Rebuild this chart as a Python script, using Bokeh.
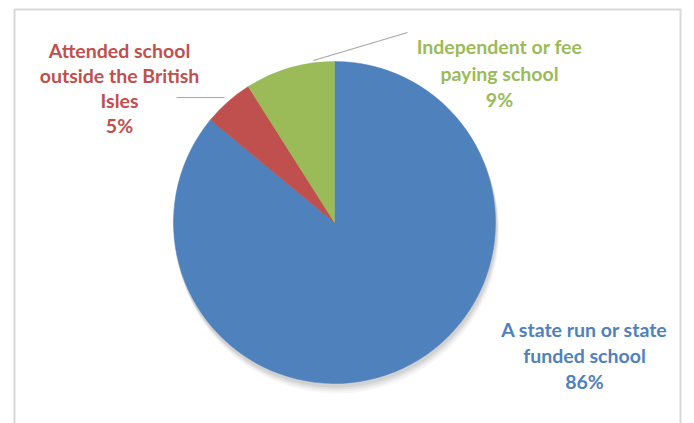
from math import pi
from bokeh.plotting import figure
from bokeh.models import Range1d, ColumnDataSource
from bokeh.core.properties import value
from bokeh.embed import file_html
from bokeh.resources import INLINE

categories = ["A state run or state funded school",
              "Attended school outside the British Isles",
              "Independent or fee paying school"]
values = [86, 5, 9]
colors = ["#4F81BD", "#C0504D", "#9BBB59"]
label_lines = [["A state run or state", "funded school", "86%"],
               ["Attended school", "outside the British", "Isles", "5%"],
               ["Independent or fee", "paying school", "9%"]]

W, H = 694, 423
p = figure(width=W, height=H, output_backend="svg", toolbar_location=None,
           x_range=Range1d(0, W), y_range=Range1d(0, H),
           min_border=0, outline_line_color=None)
p.axis.visible = False
p.grid.visible = False
p.background_fill_color = "white"
p.border_fill_color = "white"

def Y(y):
    return 423 - y

# chart border
p.quad(left=[14], right=[680], top=[Y(9)], bottom=[Y(440)], fill_color=None,
       line_color="#D9D9D9", line_width=2)

cx, cy, r = 334, Y(222), 161

# soft shadow
for off, a in [(9, 0.03), (7, 0.04), (5, 0.05), (3, 0.06)]:
    p.circle(x=[cx + off * 0.3], y=[cy - off], radius=r + 1, fill_color="#000000",
             fill_alpha=a, line_color=None)

total = sum(values)
starts, ends = [], []
ang = pi / 2
for v in values:
    starts.append(ang)
    ang = ang - v / total * 2 * pi
    ends.append(ang)

src = ColumnDataSource(dict(start=starts, end=ends, color=colors, cat=categories))
p.wedge(x=cx, y=cy, radius=r, start_angle="start", end_angle="end",
        direction="clock", fill_color="color", line_color="color", line_width=0.5,
        source=src)

# leader lines
p.line(x=[176, 224], y=[Y(97), Y(97)], line_color="#A6A6A6", line_width=1.2)
p.line(x=[313, 407], y=[Y(60), Y(32)], line_color="#A6A6A6", line_width=1.2)

label_pos = [(584, [329, 355, 381]),
             (119, [50, 75, 100, 125]),
             (499, [46, 73, 99])]
for lines, (lx, ys), col in zip(label_lines, label_pos, colors):
    p.text(x=[lx] * len(lines), y=[Y(y) for y in ys], text=lines,
           text_font=value("Lato"), text_font_style="bold",
           text_font_size="19.5px", text_color=col,
           text_align="center", text_baseline="middle")

open("out.html", "w").write(file_html(p, INLINE))
